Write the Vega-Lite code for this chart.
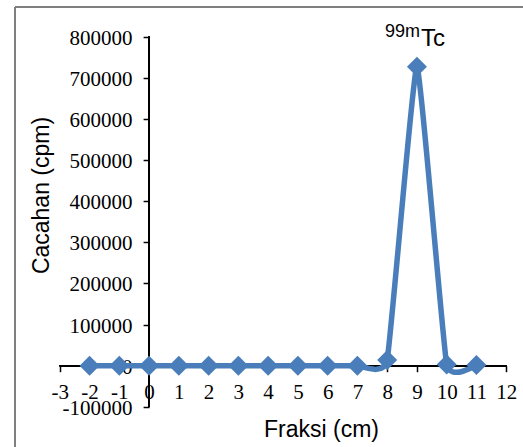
{
  "$schema": "https://vega.github.io/schema/vega-lite/v6.json",
  "width": 508,
  "height": 440,
  "autosize": {"type": "none"},
  "padding": {"left": 15, "top": 7, "right": 0, "bottom": 0},
  "background": "white",
  "config": {
    "view": {"stroke": null},
    "axis": {
      "domain": false, "grid": false,
      "tickColor": "black", "tickSize": 6, "tickWidth": 1.5,
      "labelFont": "Liberation Serif", "labelFontSize": 21, "labelColor": "black",
      "labelOverlap": false, "labelFlush": false, "labelBound": false,
      "titleFont": "Liberation Sans", "titleFontSize": 23, "titleFontWeight": "normal", "titleColor": "black",
      "titleAlign": "center", "titleBaseline": "alphabetic"
    }
  },
  "data": {"values": [
    {"fraksi": -2, "cacahan": 0},
    {"fraksi": -1, "cacahan": 0},
    {"fraksi": 0, "cacahan": 0},
    {"fraksi": 1, "cacahan": 0},
    {"fraksi": 2, "cacahan": 0},
    {"fraksi": 3, "cacahan": 0},
    {"fraksi": 4, "cacahan": 0},
    {"fraksi": 5, "cacahan": 0},
    {"fraksi": 6, "cacahan": 0},
    {"fraksi": 7, "cacahan": 0},
    {"fraksi": 8, "cacahan": 14000},
    {"fraksi": 9, "cacahan": 727000},
    {"fraksi": 10, "cacahan": 3000},
    {"fraksi": 11, "cacahan": 1500}
  ]},
  "encoding": {
    "x": {"field": "fraksi", "type": "quantitative",
      "scale": {"domain": [-4.5054, 12.5645], "nice": false, "zero": false},
      "axis": {
        "title": "Fraksi (cm)", "values": [-3,-2,-1,0,1,2,3,4,5,6,7,8,9,10,11,12],
        "labelExpr": "'' + datum.value", "labelFont": "Liberation Serif", "labelFontSize": 21,
        "offset": -81.3, "labelPadding": 10, "titleX": 306, "titleY": 71
      }},
    "y": {"field": "cacahan", "type": "quantitative",
      "scale": {"domain": [-197811, 872228], "nice": false, "zero": false},
      "axis": {
        "title": "Cacahan (cpm)", "values": [-100000,0,100000,200000,300000,400000,500000,600000,700000,800000],
        "labelExpr": "'' + datum.value", "labelFont": "Liberation Serif", "labelFontSize": 21,
        "offset": -134.1, "labelPadding": 11, "labelOffset": 1.5,
        "titleX": -100.8, "titleY": 188, "titleAngle": -90
      }}
  },
  "layer": [
    {
      "mark": {"type": "rule", "color": "#7f7f7f", "strokeWidth": 2},
      "encoding": {
        "x": {"datum": -4.5054, "type": "quantitative"},
        "x2": {"datum": 12.5645},
        "y": {"datum": 872228, "type": "quantitative"}
      }
    },
    {
      "mark": {"type": "rule", "color": "#7f7f7f", "strokeWidth": 2},
      "encoding": {
        "x": {"datum": -4.5054, "type": "quantitative"},
        "y": {"datum": -197811, "type": "quantitative"},
        "y2": {"datum": 872228}
      }
    },
    {
      "mark": {"type": "rule", "color": "black", "strokeWidth": 1.5},
      "encoding": {
        "x": {"datum": -3, "type": "quantitative"},
        "x2": {"datum": 12},
        "y": {"datum": 0, "type": "quantitative"}
      }
    },
    {
      "mark": {"type": "rule", "color": "black", "strokeWidth": 1.5},
      "encoding": {
        "x": {"datum": 0, "type": "quantitative"},
        "y": {"datum": -100000, "type": "quantitative"},
        "y2": {"datum": 800000}
      }
    },
    {
      "mark": {"type": "line", "color": "#4A7EBB", "strokeWidth": 5.5, "interpolate": "cardinal", "tension": 0.65}
    },
    {
      "mark": {"type": "point", "shape": "diamond", "filled": true, "color": "#4A7EBB", "size": 400, "opacity": 1}
    },
    {
      "transform": [{"filter": "datum.fraksi == 9"}],
      "mark": {"type": "text", "text": "Tc", "font": "Liberation Sans", "fontSize": 24, "color": "black", "align": "left", "baseline": "alphabetic", "dx": 4, "dy": -21}
    },
    {
      "transform": [{"filter": "datum.fraksi == 9"}],
      "mark": {"type": "text", "text": "99m", "font": "Liberation Sans", "fontSize": 18, "color": "black", "align": "right", "baseline": "alphabetic", "dx": 3, "dy": -30}
    }
  ]
}
